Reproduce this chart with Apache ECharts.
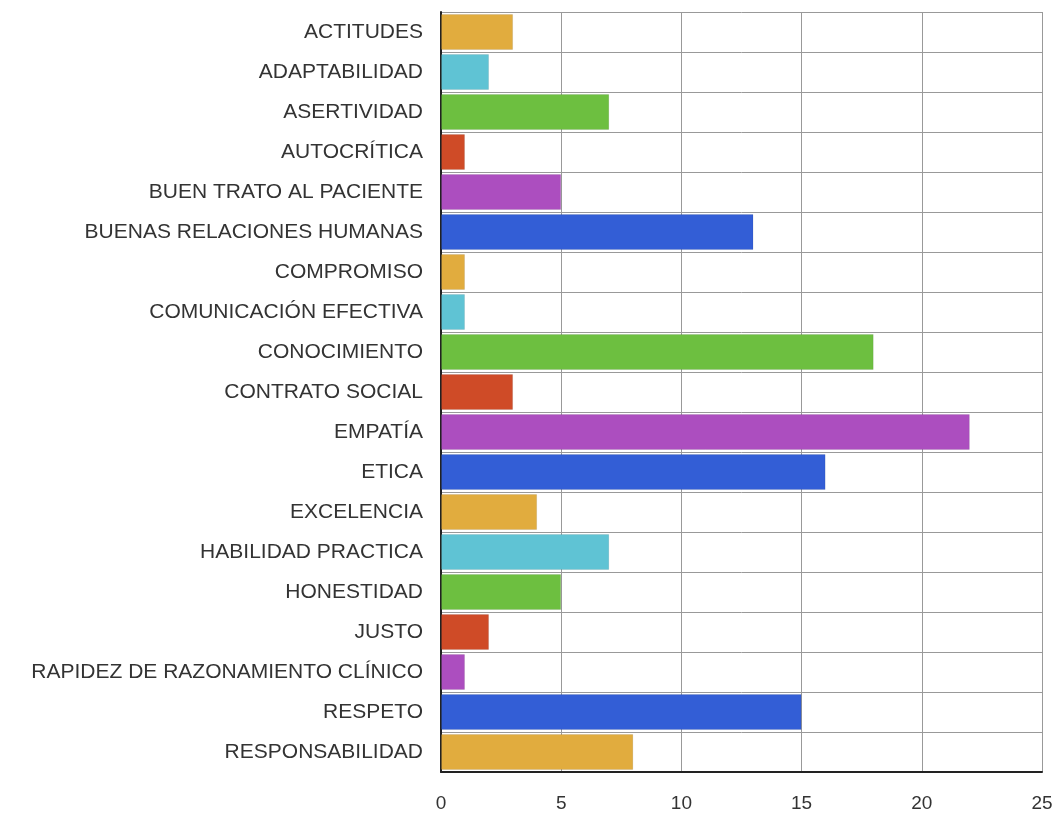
<!DOCTYPE html>
<html>
<head>
<meta charset="utf-8">
<script src="https://cdn.jsdelivr.net/npm/echarts@6/dist/echarts.min.js"></script>
<style>
  html, body { margin: 0; padding: 0; background: #fff; }
  #chart { width: 1058px; height: 815px; }
</style>
</head>
<body>
<div id="chart"></div>
<script>
// categorias, de arriba a abajo
const categories = [
  'ACTITUDES', 'ADAPTABILIDAD', 'ASERTIVIDAD', 'AUTOCRÍTICA',
  'BUEN TRATO AL PACIENTE', 'BUENAS RELACIONES HUMANAS', 'COMPROMISO',
  'COMUNICACIÓN EFECTIVA', 'CONOCIMIENTO', 'CONTRATO SOCIAL', 'EMPATÍA',
  'ETICA', 'EXCELENCIA', 'HABILIDAD PRACTICA', 'HONESTIDAD', 'JUSTO',
  'RAPIDEZ DE RAZONAMIENTO CLÍNICO', 'RESPETO', 'RESPONSABILIDAD'
];
const values = [3, 2, 7, 1, 5, 13, 1, 1, 18, 3, 22, 16, 4, 7, 5, 2, 1, 15, 8];
const xTicks = [0, 5, 10, 15, 20, 25];
const colors = ['#e1ac3e', '#5fc3d4', '#6dbf40', '#cf4b27', '#ac4ebf', '#335ed6'];

const myChart = echarts.init(document.getElementById('chart'));
const option = {
  animation: false,
  color: colors,
  grid: { left: 441, right: 16, top: 12, bottom: 43, containLabel: false },
  xAxis: {
    type: 'value',
    min: xTicks[0],
    max: xTicks[xTicks.length - 1],
    interval: 5,
    axisLine: { show: true, lineStyle: { color: '#222', width: 2 } },
    axisTick: { show: false },
    axisLabel: { color: '#333', fontSize: 19, fontFamily: 'Liberation Sans', margin: 22 },
    splitLine: { lineStyle: { color: '#999', width: 1 } }
  },
  yAxis: {
    type: 'category',
    inverse: true,
    data: categories,
    axisLine: { show: true, lineStyle: { color: '#222', width: 2 } },
    axisTick: { show: false },
    axisLabel: { color: '#333', fontSize: 21, fontFamily: 'Liberation Sans', margin: 18 },
    splitLine: { show: true, lineStyle: { color: '#999', width: 1 } }
  },
  series: [{
    type: 'bar',
    colorBy: 'data',
    data: values,
    barCategoryGap: '10%',
    itemStyle: { borderColor: 'rgba(0,0,0,0.08)', borderWidth: 1 }
  }]
};
myChart.setOption(option);
</script>
</body>
</html>
